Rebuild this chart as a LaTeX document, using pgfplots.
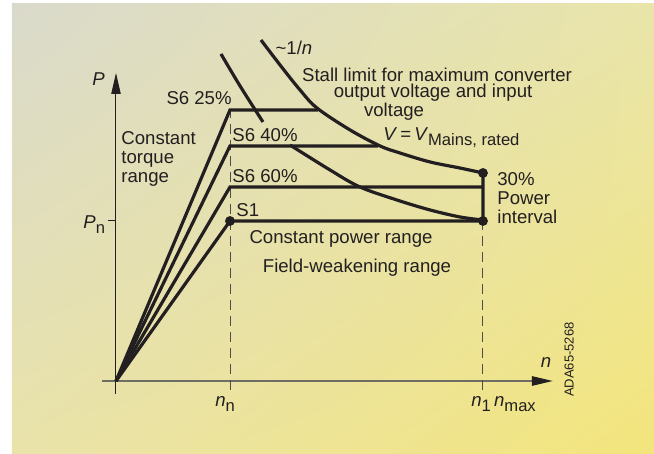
\documentclass[border=0pt]{standalone}
\usepackage{fontspec}
\setmainfont{Liberation Sans}
\usepackage{pgfplots}
\pgfplotsset{compat=1.18}
\usetikzlibrary{arrows.meta,shadings}

\definecolor{ink}{HTML}{231F20}
\definecolor{bgtl}{RGB}{218,218,204}
\definecolor{bgtr}{RGB}{233,229,170}
\definecolor{bgbl}{RGB}{233,227,170}
\definecolor{bgbr}{RGB}{243,229,124}
\definecolor{xaxis}{RGB}{110,110,100}

\newcommand{\lblfont}{\fontsize{9.3}{9.5}\selectfont}
\newcommand{\sub}[1]{\raisebox{-2.5pt}{\fontsize{8.3}{8.3}\selectfont #1}}

\tikzset{
  curve/.style={ink, line width=1.6pt},
  dashline/.style={ink!80, line width=0.5pt, dash pattern=on 5pt off 3pt},
  lbl/.style={font=\lblfont, text=ink, inner sep=0pt},
}

\begin{document}
\begin{tikzpicture}
% panel (1 px of the reference = 0.5pt, origin of the chart at 0,0)
\fill[white] (-58pt,-36.5pt) rectangle (269pt,190.5pt);
\shade[upper left=bgtl, upper right=bgtr, lower left=bgbl, lower right=bgbr]
  (-52pt,-36.5pt) rectangle (269pt,188.5pt);

\begin{axis}[
  anchor=origin, at={(0pt,0pt)},
  x=57pt, y=80pt,
  xmin=-0.123, xmax=3.833,
  ymin=-0.081, ymax=1.925,
  axis lines=middle,
  clip=false,
  xtick=\empty,
  ytick={1}, yticklabels={},
  tick align=outside,
  major tick length=4pt,
  tick style={ink, line width=0.5pt},
  x axis line style={draw=xaxis, line width=1pt,
    -{Triangle[length=10.5pt,width=4.6pt,color=ink]}},
  y axis line style={draw=ink, line width=0.5pt,
    -{Triangle[length=10.5pt,width=4.7pt,color=ink]}},
]

% guide lines at n_n and n_1
\addplot[dashline, no marks] coordinates {(1,-0.056) (1,1.694)};
\addplot[dashline, no marks] coordinates {(3.219,-0.056) (3.219,1)};

% operating limits
\addplot[curve, no marks] coordinates {(0,0) (1,1.694) (1.77,1.694)};
\addplot[curve, no marks] coordinates {(0,0) (1,1.469) (2.30,1.469)};
\addplot[curve, no marks] coordinates {(0,0) (1,1.2125) (3.219,1.2125)};
\addplot[curve, no marks] coordinates {(0,0) (1,1) (3.219,1) (3.219,1.3)};

% stall limit ~1/n
\addplot[curve, no marks, smooth, tension=0.55] coordinates {
  (1.272,2.131) (1.439,1.975) (1.614,1.819) (1.763,1.706) (2.053,1.569)
  (2.316,1.469) (2.491,1.425) (2.754,1.369) (3.018,1.331) (3.219,1.3)
};

% second limit curve (broken by the S6 40% label)
\addplot[curve, no marks, smooth, tension=0.55] coordinates {
  (0.921,2.044) (1.088,1.844) (1.289,1.619)
};
\addplot[curve, no marks, smooth, tension=0.55] coordinates {
  (1.526,1.475) (1.877,1.319) (2.140,1.2125) (2.465,1.131)
  (2.754,1.069) (3.018,1.025) (3.219,1.006)
};

% points
\addplot[only marks, mark=*, mark size=2.25pt, ink] coordinates {
  (1,1) (3.219,1) (3.219,1.3)
};

% labels
\node[lbl, anchor=east] at (axis cs:1.018,1.769) {S6 25\%};
\node[lbl, anchor=west] at (axis cs:1.018,1.5375) {S6 40\%};
\node[lbl, anchor=west] at (axis cs:1.018,1.281) {S6 60\%};
\node[lbl, anchor=west] at (axis cs:1.053,1.069) {S1};
\node[lbl, anchor=west, align=left] at (axis cs:0.044,1.3875)
  {Constant\\torque\\range};
\node[lbl] at (axis cs:1.561,2.081) {\textasciitilde 1/\textit{n}};
\node[lbl] at (axis cs:2.816,1.913) {Stall limit for maximum converter};
\node[lbl] at (axis cs:2.781,1.800) {output voltage and input};
\node[lbl] at (axis cs:2.439,1.681) {voltage};
\node[lbl, anchor=base west] at (axis cs:2.342,1.506)
  {\textit{V}\,=\,\textit{V}\sub{Mains, rated}};
\node[lbl, anchor=west, align=left] at (axis cs:3.342,1.144)
  {30\%\\Power\\interval};
\node[lbl] at (axis cs:1.974,0.8875) {Constant power range};
\node[lbl] at (axis cs:2.114,0.706) {Field-weakening range};

% axis labels
\node[lbl, anchor=base west] at (axis cs:-0.2105,1.844) {\textit{P}};
\node[lbl, anchor=base west] at (axis cs:-0.289,0.956) {\textit{P}\sub{n}};
\node[lbl] at (axis cs:3.772,0.1125) {\textit{n}};
\node[lbl, anchor=base west] at (axis cs:0.868,-0.1625) {\textit{n}\sub{n}};
\node[lbl, anchor=base west] at (axis cs:3.114,-0.1625)
  {\textit{n}\sub{1}\,\textit{n}\sub{max}};
\node[lbl, font=\fontsize{6.5}{7}\selectfont, rotate=90] at (axis cs:3.974,0.134)
  {ADA65-5268};

\end{axis}
\end{tikzpicture}
\end{document}
